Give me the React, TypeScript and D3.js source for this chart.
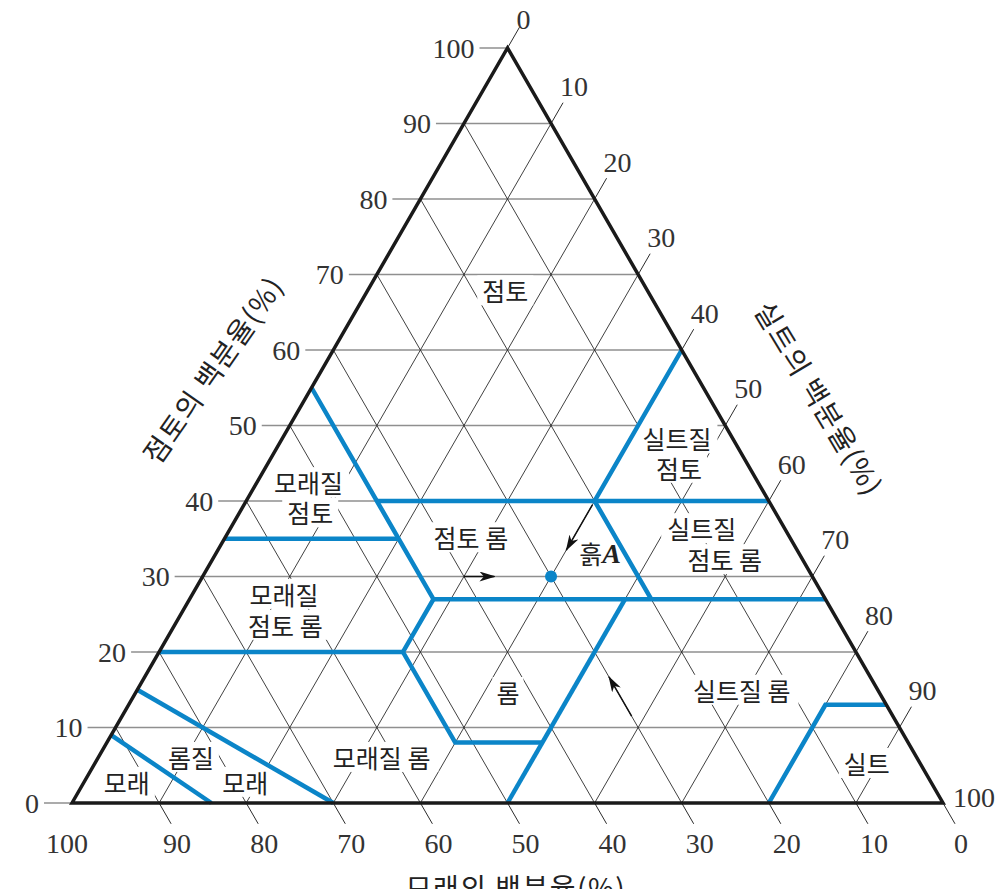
import React from 'react';
import * as d3 from 'd3';

const WIDTH = 1008;
const HEIGHT = 889;
const BLUE = '#0b85c8';
const NUM_FONT = '"Liberation Serif", "DejaVu Serif", serif';
const KR_FONT = '"Noto Sans CJK KR", "Noto Sans", sans-serif';

// every point is [sand %, clay %], silt is the rest
const gridSteps = [10, 20, 30, 40, 50, 60, 70, 80, 90];
const clayTicks = [0, 10, 20, 30, 40, 50, 60, 70, 80, 90, 100];
const sandTicks = [100, 90, 80, 70, 60, 50, 40, 30, 20, 10, 0];
const siltTicks = [0, 10, 20, 30, 40, 50, 60, 70, 80, 90, 100];

// texture class boundaries
const boundaries: [number, number][][] = [
  [[45, 55], [45, 27], [52, 20], [52, 8], [42, 8]],
  [[50, 0], [23, 27]],
  [[45, 40], [0, 40]],
  [[0, 60], [20, 40], [20, 27]],
  [[45, 27], [0, 27]],
  [[65, 35], [45, 35]],
  [[80, 20], [52, 20]],
  [[85, 15], [70, 0]],
  [[91, 9], [84, 0]],
  [[20, 0], [7, 13], [0, 13]],
];

const classLabels: { text: string; at: [number, number] }[] = [
  { text: '점토', at: [16.3, 67.9] },
  { text: '모래질', at: [51.6, 42.5] },
  { text: '점토', at: [53.4, 38.5] },
  { text: '점토 롬', at: [36.6, 35.2] },
  { text: '실트질', at: [6.4, 48.3] },
  { text: '점토', at: [8.1, 44.4] },
  { text: '실트질', at: [9.5, 36.4] },
  { text: '점토 롬', at: [8.9, 32.3] },
  { text: '모래질', at: [61.8, 27.7] },
  { text: '점토 롬', at: [63.7, 23.6] },
  { text: '롬', at: [42.6, 14.7] },
  { text: '모래질 롬', at: [61.4, 6.1] },
  { text: '실트질 롬', at: [15.6, 15.0] },
  { text: '실트', at: [6.1, 5.3] },
  { text: '롬질', at: [83.3, 6.1] },
  { text: '모래', at: [78.7, 2.8] },
  { text: '모래', at: [92.3, 2.8] },
];

// soil A: 30% sand, 30% clay, 40% silt
const soilA: [number, number] = [30, 30];
const soilALabel: [number, number] = [22.7, 33.1];
const readArrows: [number, number][][] = [
  [[40, 30], [36.5, 30]],
  [[20.5, 39.5], [26.5, 33.5]],
  [[30, 11.5], [30, 16.7]],
];

const xs = d3.scaleLinear().domain([0, 100]).range([72, 943]);
const ys = d3.scaleLinear().domain([0, 100]).range([803, 48]);
const pt = ([sand, clay]: [number, number]): [number, number] => [
  xs(100 - sand - clay / 2),
  ys(clay),
];

const line = d3.line<[number, number]>().x((d) => pt(d)[0]).y((d) => pt(d)[1]);

const DX = 12;
const DY = 20.8;

export default function App() {
  const fs = 25;
  const labelWidth = (t: string) =>
    t.split('').reduce((w, c) => w + (c === ' ' ? 0.3 : 1), 0) * fs;

  return (
    <svg
      width={WIDTH}
      height={HEIGHT}
      style={{ position: 'absolute', left: 0, top: 0, background: '#fff' }}
    >
      <defs>
        <marker
          id="arrow"
          viewBox="0 0 16 10"
          refX="15"
          refY="5"
          markerWidth="16"
          markerHeight="10"
          markerUnits="userSpaceOnUse"
          orient="auto"
        >
          <path d="M0,0 L16,5 L0,10 L4.5,5 Z" fill="#111" />
        </marker>
      </defs>

      {/* grid: clay lines (horizontal) */}
      {clayTicks.map((k) => {
        const [x1, y1] = pt([100 - k, k]);
        const [x2] = pt([0, k]);
        return (
          <line
            key={'c' + k}
            x1={x1 - 28}
            y1={y1}
            x2={k > 0 && k < 100 ? x2 : x1}
            y2={y1}
            stroke="#8f8f8f"
            strokeWidth={1.5}
          />
        );
      })}
      {/* sand lines */}
      {gridSteps.map((k) => {
        const [x1, y1] = pt([k, 0]);
        const [x2, y2] = pt([k, 100 - k]);
        return (
          <line key={'s' + k} x1={x2} y1={y2} x2={x1} y2={y1} stroke="#2b2b2b" strokeWidth={0.9} />
        );
      })}
      {sandTicks
        .filter((k) => k < 100)
        .map((k) => {
          const [x, y] = pt([k, 0]);
          return (
            <line key={'st' + k} x1={x} y1={y} x2={x + DX} y2={y + DY} stroke="#2b2b2b" strokeWidth={1} />
          );
        })}
      {/* silt lines */}
      {gridSteps.map((k) => {
        const [x1, y1] = pt([100 - k, 0]);
        const [x2, y2] = pt([0, 100 - k]);
        return (
          <line key={'i' + k} x1={x1} y1={y1} x2={x2} y2={y2} stroke="#2b2b2b" strokeWidth={0.9} />
        );
      })}
      {siltTicks
        .filter((k) => k < 100)
        .map((k) => {
          const [x, y] = pt([0, 100 - k]);
          return (
            <line key={'it' + k} x1={x} y1={y} x2={x + DX} y2={y - DY} stroke="#2b2b2b" strokeWidth={1} />
          );
        })}

      {/* label backgrounds */}
      {classLabels.map((l, i) => {
        const [x, y] = pt(l.at);
        const w = labelWidth(l.text) + 6;
        return <rect key={'b' + i} x={x - w / 2} y={y - 15} width={w} height={30} fill="#fff" />;
      })}

      {/* class boundaries */}
      {boundaries.map((b, i) => (
        <path key={'bd' + i} d={line(b) || ''} fill="none" stroke={BLUE} strokeWidth={4.5} strokeLinejoin="miter" />
      ))}

      {/* triangle */}
      <path
        d={line([[100, 0], [0, 100], [0, 0]]) + 'Z'}
        fill="none"
        stroke="#1a1a1a"
        strokeWidth={3.5}
        strokeLinejoin="miter"
      />

      {/* reading arrows and soil A */}
      {readArrows.map((a, i) => (
        <path key={'a' + i} d={line(a) || ''} stroke="#111" strokeWidth={1.5} fill="none" markerEnd="url(#arrow)" />
      ))}
      <circle cx={pt(soilA)[0]} cy={pt(soilA)[1]} r={6} fill={BLUE} />
      <text
        x={pt(soilALabel)[0] - 22}
        y={pt(soilALabel)[1]}
        dominantBaseline="central"
        fontFamily={KR_FONT}
        fontSize={25}
        fill="#222"
      >
        흙
        <tspan fontFamily={NUM_FONT} fontStyle="italic" fontWeight="bold" fontSize={28}>
          A
        </tspan>
      </text>

      {/* class names */}
      {classLabels.map((l, i) => {
        const [x, y] = pt(l.at);
        return (
          <text
            key={'l' + i}
            x={x}
            y={y}
            textAnchor="middle"
            dominantBaseline="central"
            fontFamily={KR_FONT}
            fontSize={fs}
            fill="#222"
          >
            {l.text}
          </text>
        );
      })}

      {/* tick labels */}
      <g fontFamily={NUM_FONT} fontSize={28} fill="#333">
        {clayTicks.map((k) => {
          const [x, y] = pt([100 - k, k]);
          return (
            <text key={'cl' + k} x={x - 33} y={y} textAnchor="end" dominantBaseline="central">
              {k}
            </text>
          );
        })}
        {sandTicks.map((k) => {
          const [x] = pt([k, 0]);
          return (
            <text
              key={'sl' + k}
              x={k === 100 ? x - 5 : x + 18}
              y={843}
              textAnchor="middle"
              dominantBaseline="central"
            >
              {k}
            </text>
          );
        })}
        {siltTicks.map((k) => {
          const [x, y] = pt([0, 100 - k]);
          if (k === 100) {
            return (
              <text key={'il' + k} x={x + 10} y={y - 6} dominantBaseline="central">
                {k}
              </text>
            );
          }
          return (
            <text key={'il' + k} x={x + 9} y={y - (k === 0 ? 29 : 37)} dominantBaseline="central">
              {k}
            </text>
          );
        })}
      </g>

      {/* axis titles */}
      <g fontFamily={KR_FONT} fontSize={28} fill="#222" letterSpacing={1.5}>
        <text x={212} y={369} textAnchor="middle" dominantBaseline="central" transform="rotate(-55 212 369)">
          점토의 백분율(%)
        </text>
        <text x={820} y={398} textAnchor="middle" dominantBaseline="central" transform="rotate(59 820 398)">
          실트의 백분율(%)
        </text>
        <text x={516} y={899} textAnchor="middle">
          모래의 백분율(%)
        </text>
      </g>
    </svg>
  );
}
